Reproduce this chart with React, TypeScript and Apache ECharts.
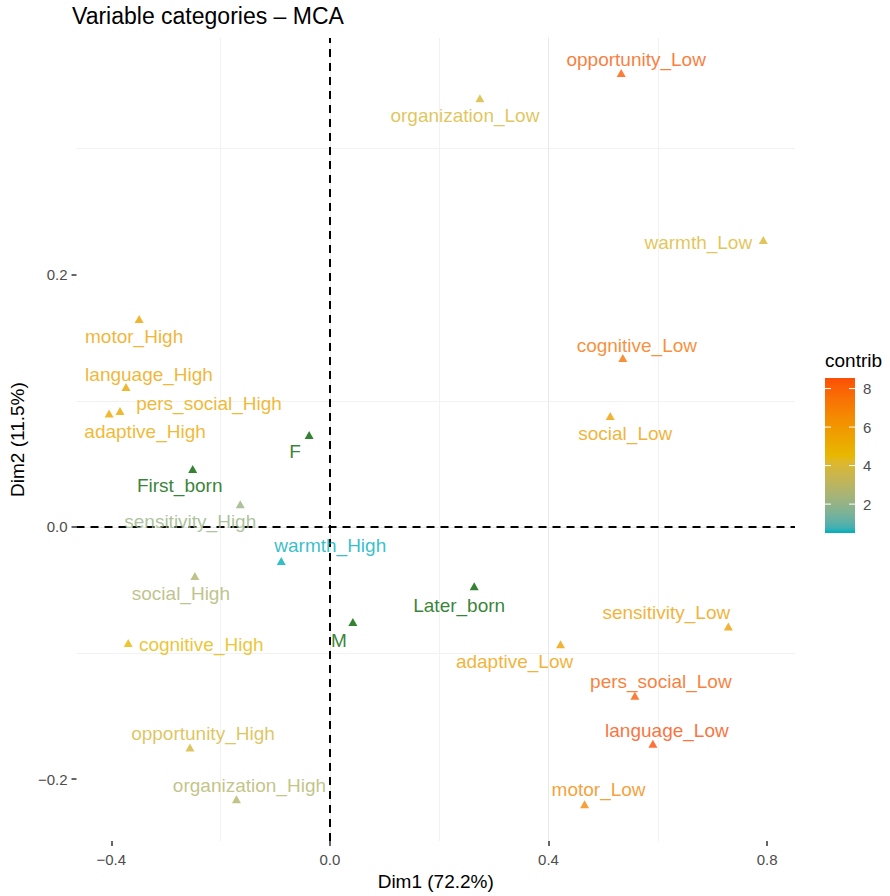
import React, { useEffect, useRef } from "react";
import * as echarts from "echarts";

// ---------- data ----------
const activeNames = [
  "opportunity_Low", "organization_Low", "warmth_Low", "cognitive_Low", "social_Low",
  "sensitivity_Low", "adaptive_Low", "pers_social_Low", "language_Low", "motor_Low",
  "motor_High", "language_High", "pers_social_High", "adaptive_High", "sensitivity_High",
  "warmth_High", "social_High", "cognitive_High", "opportunity_High", "organization_High",
];
const activeDim1 = [
  0.533, 0.2745, 0.793, 0.536, 0.513,
  0.729, 0.422, 0.558, 0.591, 0.466,
  -0.349, -0.373, -0.384, -0.404, -0.164,
  -0.089, -0.247, -0.369, -0.256, -0.171,
];
const activeDim2 = [
  0.36, 0.34, 0.2275, 0.134, 0.088,
  -0.079, -0.093, -0.134, -0.172, -0.22,
  0.165, 0.111, 0.092, 0.09, 0.018,
  -0.027, -0.039, -0.092, -0.175, -0.216,
];
const activeContrib = [
  8.2, 4.0, 4.1, 7.4, 5.6,
  5.6, 5.6, 8.1, 8.55, 6.6,
  5.5, 5.4, 5.3, 5.3, 2.1,
  0.5, 2.7, 4.6, 3.9, 2.8,
];

const supNames = ["F", "First_born", "Later_born", "M"];
const supDim1 = [-0.038, -0.251, 0.264, 0.042];
const supDim2 = [0.073, 0.046, -0.047, -0.0755];

const xTicks = [-0.4, 0.0, 0.4, 0.8];
const yTicks = [-0.2, 0.0, 0.2];
const legendTicks = [2, 4, 6, 8];

// ---------- layout (label placement, like ggrepel) ----------
const activeLabelOffsets = [
  [15, -14], [-15, 17], [-65, 2], [14, -12], [15, 18],
  [-62, -14], [-46, 17], [26, -14], [14, -13], [14, -15],
  [-5, 18], [23, -12], [89, -7], [36, 18], [-50, 17],
  [49, -15], [-14, 17], [73, 2], [13, -14], [13, -14],
];
const supLabelOffsets = [[-14, 17], [-13, 17], [-15, 19], [-14, 18]];

const FONT = "'Liberation Sans', Arial, Helvetica, sans-serif";
const GRAD = ["#00AFBB", "#E7B800", "#FC4E07"];

// Lab interpolation (as ggplot's gradientn)
function hexToRgb(h: string) {
  return [1, 3, 5].map((i) => parseInt(h.slice(i, i + 2), 16));
}
function toLin(c: number) {
  c /= 255;
  return c <= 0.04045 ? c / 12.92 : Math.pow((c + 0.055) / 1.055, 2.4);
}
function fromLin(c: number) {
  const v = c <= 0.0031308 ? 12.92 * c : 1.055 * Math.pow(c, 1 / 2.4) - 0.055;
  return Math.round(Math.max(0, Math.min(1, v)) * 255);
}
function rgbToLab(rgb: number[]) {
  const [R, G, B] = rgb.map(toLin);
  const X = (0.4124 * R + 0.3576 * G + 0.1805 * B) / 0.95047;
  const Y = 0.2126 * R + 0.7152 * G + 0.0722 * B;
  const Z = (0.0193 * R + 0.1192 * G + 0.9505 * B) / 1.08883;
  const f = (t: number) => (t > 0.008856 ? Math.cbrt(t) : 7.787 * t + 16 / 116);
  return [116 * f(Y) - 16, 500 * (f(X) - f(Y)), 200 * (f(Y) - f(Z))];
}
function labToHex(lab: number[]) {
  const [L, a, b] = lab;
  const fy = (L + 16) / 116;
  const fx = fy + a / 500;
  const fz = fy - b / 200;
  const inv = (t: number) => (t * t * t > 0.008856 ? t * t * t : (t - 16 / 116) / 7.787);
  const X = inv(fx) * 0.95047, Y = inv(fy), Z = inv(fz) * 1.08883;
  const R = 3.2406 * X - 1.5372 * Y - 0.4986 * Z;
  const G = -0.9689 * X + 1.8758 * Y + 0.0415 * Z;
  const B = 0.0557 * X - 0.204 * Y + 1.057 * Z;
  return "#" + [R, G, B].map((c) => fromLin(c).toString(16).padStart(2, "0")).join("");
}
function makePalette(n: number) {
  const labs = GRAD.map((h) => rgbToLab(hexToRgb(h)));
  const out: string[] = [];
  for (let i = 0; i < n; i++) {
    const t = i / (n - 1);
    const seg = t < 0.5 ? 0 : 1;
    const u = seg === 0 ? t * 2 : (t - 0.5) * 2;
    const A = labs[seg], B = labs[seg + 1];
    out.push(labToHex([0, 1, 2].map((k) => A[k] + (B[k] - A[k]) * u)));
  }
  return out;
}

function fmt(v: number) {
  return v.toFixed(1).replace("-", "\u2212");
}

export default function App() {
  const ref = useRef<HTMLDivElement>(null);
  useEffect(() => {
    if (!ref.current) return;
    const chart = echarts.init(ref.current, undefined, { renderer: "svg" });
    const palette = makePalette(31);
    const cMin = Math.min(...activeContrib);
    const cMax = Math.max(...activeContrib);

    const gridLeft = 72, gridTop = 38, gridRight = 795, gridBottom = 845;
    const barX = 825, barY = 378, barW = 30, barH = 155;
    const valToY = (v: number) => barY + barH - ((v - cMin) / (cMax - cMin)) * barH;

    const activeData = activeNames.map((n, i) => ({
      name: n,
      value: [activeDim1[i], activeDim2[i], activeContrib[i]],
      label: { offset: activeLabelOffsets[i] },
    }));
    const supData = supNames.map((n, i) => ({
      name: n,
      value: [supDim1[i], supDim2[i]],
      label: { offset: supLabelOffsets[i] },
    }));

    const labelCommon = {
      show: true,
      formatter: "{b}",
      position: ["50%", "50%"],
      align: "center",
      verticalAlign: "middle",
      fontSize: 19,
      fontFamily: FONT,
      color: "inherit",
    };

    const isTick = (v: number, ticks: number[]) => ticks.some((t) => Math.abs(t - v) < 1e-6);

    const legendGraphics: any[] = [
      {
        type: "text",
        left: barX,
        top: barY - 27,
        style: { text: "contrib", fontSize: 19, fontFamily: FONT, fill: "#000" },
      },
      {
        type: "rect",
        shape: { x: barX, y: barY, width: barW, height: barH },
        style: {
          fill: new echarts.graphic.LinearGradient(
            0, 1, 0, 0,
            palette.map((c, i) => ({ offset: i / (palette.length - 1), color: c }))
          ),
        },
      },
    ];
    legendTicks.forEach((v) => {
      const y = valToY(v);
      legendGraphics.push(
        { type: "line", shape: { x1: barX, y1: y, x2: barX + 6, y2: y }, style: { stroke: "#fff", lineWidth: 1 } },
        { type: "line", shape: { x1: barX + barW - 6, y1: y, x2: barX + barW, y2: y }, style: { stroke: "#fff", lineWidth: 1 } },
        {
          type: "text",
          x: barX + barW + 8,
          y: y,
          style: { text: String(v), fontSize: 15, fontFamily: FONT, fill: "#4D4D4D", verticalAlign: "middle" },
        }
      );
    });

    chart.setOption({
      animation: false,
      backgroundColor: "#fff",
      textStyle: { fontFamily: FONT },
      title: {
        text: "Variable categories \u2013 MCA",
        left: 72,
        top: 4,
        padding: 0,
        textStyle: { fontSize: 23, fontWeight: "normal", color: "#000", fontFamily: FONT },
      },
      grid: {
        left: gridLeft,
        top: gridTop,
        width: gridRight - gridLeft,
        height: gridBottom - gridTop,
        containLabel: false,
      },
      xAxis: {
        type: "value",
        min: -0.4636,
        max: 0.851,
        minInterval: 0.4,
        maxInterval: 0.4,
        position: "bottom",
        name: "Dim1 (72.2%)",
        nameLocation: "middle",
        nameGap: 27,
        nameTextStyle: { fontSize: 19, color: "#000", fontFamily: FONT },
        axisLine: { show: false, onZero: false },
        axisTick: { show: true, customValues: xTicks, length: 5, lineStyle: { color: "#333", width: 1.5 } },
        axisLabel: {
          color: "#4D4D4D",
          fontSize: 15,
          margin: 11,
          formatter: (v: number) => (isTick(v, xTicks) ? fmt(v) : ""),
        },
        splitLine: { show: true, showMinLine: false, showMaxLine: false, lineStyle: { color: "#E8E8E8", width: 1 } },
        minorTick: { show: false, splitNumber: 2 },
        minorSplitLine: { show: true, lineStyle: { color: "#F2F2F2", width: 1 } },
      },
      yAxis: {
        type: "value",
        min: -0.2492,
        max: 0.3878,
        minInterval: 0.2,
        maxInterval: 0.2,
        position: "left",
        name: "Dim2 (11.5%)",
        nameLocation: "middle",
        nameGap: 47,
        nameTextStyle: { fontSize: 19, color: "#000", fontFamily: FONT },
        axisLine: { show: false, onZero: false },
        axisTick: { show: true, customValues: yTicks, length: 5, lineStyle: { color: "#333", width: 1.5 } },
        axisLabel: {
          color: "#4D4D4D",
          fontSize: 15,
          margin: 9,
          formatter: (v: number) => (isTick(v, yTicks) ? fmt(v) : ""),
        },
        splitLine: { show: true, showMinLine: false, showMaxLine: false, lineStyle: { color: "#E8E8E8", width: 1 } },
        minorTick: { show: false, splitNumber: 2 },
        minorSplitLine: { show: true, lineStyle: { color: "#F2F2F2", width: 1 } },
      },
      visualMap: {
        type: "continuous",
        show: false,
        seriesIndex: 1,
        dimension: 2,
        min: cMin,
        max: cMax,
        inRange: { color: palette },
      },
      series: [
        {
          type: "scatter",
          name: "sup",
          symbol: "triangle",
          symbolSize: [9, 8],
          itemStyle: { color: "#006400" },
          data: supData,
          label: labelCommon,
          z: 3,
          markLine: {
            silent: true,
            symbol: ["none", "none"],
            label: { show: false },
            lineStyle: { type: [8, 6], color: "#000", width: 2 },
            data: [{ xAxis: 0 }, { yAxis: 0 }],
            z: 1,
          },
        },
        {
          type: "scatter",
          name: "active",
          symbol: "triangle",
          symbolSize: [9, 8],
          data: activeData,
          label: labelCommon,
          z: 3,
        },
      ],
      graphic: legendGraphics,
    });
    return () => chart.dispose();
  }, []);
  return <div ref={ref} style={{ position: "absolute", left: 0, top: 0, width: 890, height: 896 }} />;
}
